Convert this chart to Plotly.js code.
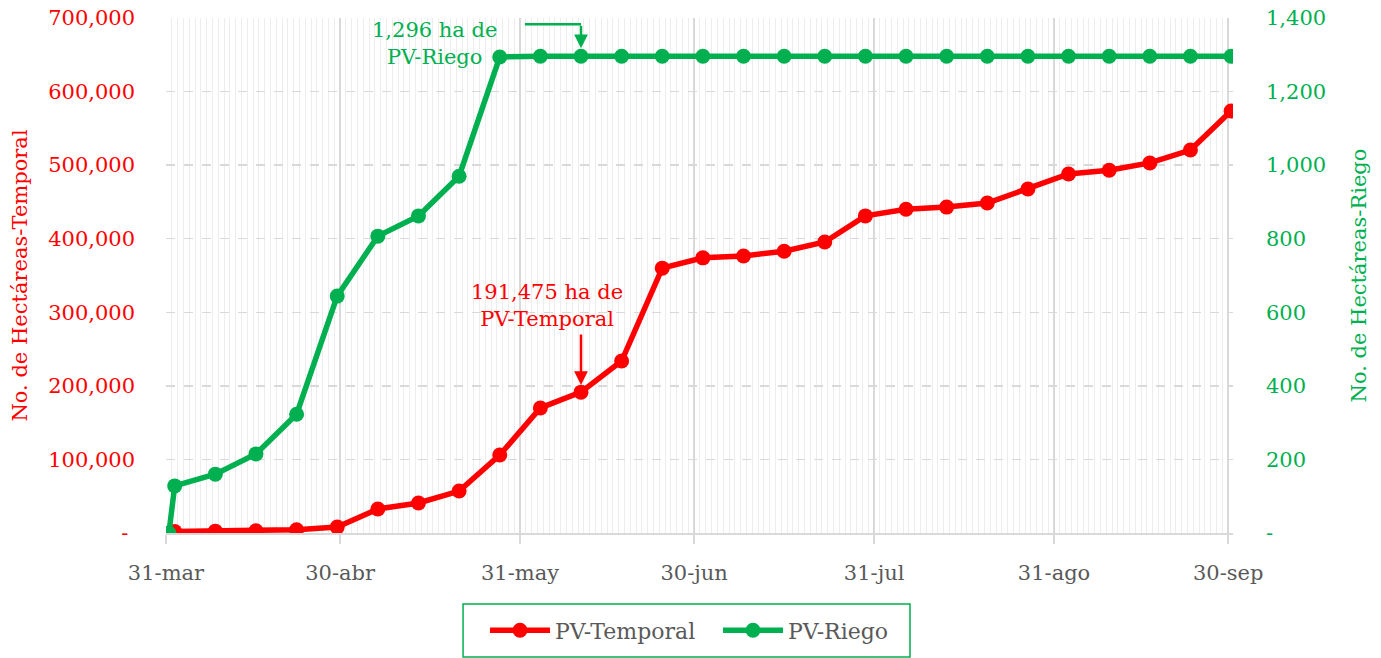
<!DOCTYPE html>
<html><head><meta charset="utf-8">
<script src="https://cdn.plot.ly/plotly-3.0.1.min.js"></script>
<style>html,body{margin:0;padding:0;background:#fff}#chart{width:1381px;height:658px}</style>
</head><body><div id="chart"></div>
<script>
const fechasTemporal = ['2024-04-01','2024-04-08','2024-04-15','2024-04-22','2024-04-29','2024-05-06','2024-05-13','2024-05-20','2024-05-27','2024-06-03','2024-06-10','2024-06-17','2024-06-24','2024-07-01','2024-07-08','2024-07-15','2024-07-22','2024-07-29','2024-08-05','2024-08-12','2024-08-19','2024-08-26','2024-09-02','2024-09-09','2024-09-16','2024-09-23','2024-09-30'];
const temporal = [2000,2500,3000,4500,8000,32600,40800,57000,106000,170000,191475,233800,360000,374000,376500,383000,395500,431000,440000,443000,448500,467500,488000,493000,503000,520500,573600];
const fechasRiego = ['2024-03-31','2024-04-01','2024-04-08','2024-04-15','2024-04-22','2024-04-29','2024-05-06','2024-05-13','2024-05-20','2024-05-27','2024-06-03','2024-06-10','2024-06-17','2024-06-24','2024-07-01','2024-07-08','2024-07-15','2024-07-22','2024-07-29','2024-08-05','2024-08-12','2024-08-19','2024-08-26','2024-09-02','2024-09-09','2024-09-16','2024-09-23','2024-09-30'];
const riego = [0,128,160,215,323,644,807,862,970,1294,1296,1296,1296,1296,1296,1296,1296,1296,1296,1296,1296,1296,1296,1296,1296,1296,1296,1296];
const tickFechas = ['2024-03-31','2024-04-30','2024-05-31','2024-06-30','2024-07-31','2024-08-31','2024-09-30'];
const tickEtiquetas = ['31-mar','30-abr','31-may','30-jun','31-jul','31-ago','30-sep'];
const yIzqValores = [0,100000,200000,300000,400000,500000,600000,700000];
const yIzqEtiquetas = ['-\u00a0','100,000','200,000','300,000','400,000','500,000','600,000','700,000'];
const yDerValores = [0,200,400,600,800,1000,1200,1400];
const yDerEtiquetas = ['-','200','400','600','800','1,000','1,200','1,400'];
const notaRiego = '1,296 ha de<br>PV-Riego';
const notaTemporal = '191,475 ha de<br>PV-Temporal';

const FONT = 'DejaVu Serif';
const ROJO = '#ff0000', VERDE = '#00b050', GRIS = '#595959', GRID = '#d9d9d9';
const DIA = 86400000;
const FS = 21;

const traces = [
  {x: fechasTemporal, y: temporal, name: 'PV-Temporal', type: 'scatter', mode: 'lines+markers',
   line: {color: ROJO, width: 5.5}, marker: {color: ROJO, size: 15},
   xperiod: DIA, xperiodalignment: 'middle', yaxis: 'y'},
  {x: fechasRiego, y: riego, name: 'PV-Riego', type: 'scatter', mode: 'lines+markers',
   line: {color: VERDE, width: 5.5}, marker: {color: VERDE, size: 15},
   xperiod: DIA, xperiodalignment: 'middle', yaxis: 'y2'}
];

const layout = {
  width: 1381, height: 658, autosize: false,
  margin: {l: 166, r: 148, t: 18, b: 125},
  paper_bgcolor: '#fff', plot_bgcolor: '#fff',
  font: {family: FONT, size: FS, color: GRIS},
  showlegend: true,
  xaxis: {
    type: 'date', range: ['2024-03-31', '2024-09-30 20:00'],
    tickmode: 'array', tickvals: tickFechas, ticktext: tickEtiquetas,
    showgrid: true, gridcolor: GRID, gridwidth: 1.5,
    ticks: 'outside', ticklen: 9, tickcolor: GRID, tickwidth: 1.5,
    showline: true, linecolor: GRID, linewidth: 1.5,
    tickfont: {family: FONT, size: FS, color: GRIS}, ticklabelstandoff: 11,
    zeroline: false, automargin: false,
    minor: {tickmode: 'linear', tick0: '2024-03-31', dtick: DIA, showgrid: true, gridcolor: '#ededed', gridwidth: 1, ticks: ''}
  },
  yaxis: {
    range: [0, 700000], tickmode: 'array', tickvals: yIzqValores, ticktext: yIzqEtiquetas,
    tickfont: {family: FONT, size: FS, color: ROJO},
    showgrid: true, gridcolor: GRID, gridwidth: 1.5, griddash: 'dash',
    zeroline: false, showline: false, ticks: '', ticklabelstandoff: 30, automargin: false,
    title: {text: 'No. de Hectáreas-Temporal', font: {family: FONT, size: FS, color: ROJO}, standoff: 14}
  },
  yaxis2: {
    overlaying: 'y', side: 'right',
    range: [0, 1400], tickmode: 'array', tickvals: yDerValores, ticktext: yDerEtiquetas,
    tickfont: {family: FONT, size: FS, color: VERDE},
    showgrid: false, zeroline: false, showline: false, ticks: '', ticklabelstandoff: 32, automargin: false,
    title: {text: 'No. de Hectáreas-Riego', font: {family: FONT, size: FS, color: VERDE}, standoff: 26}
  },
  legend: {
    orientation: 'h', xref: 'container', yref: 'container',
    x: 0.3512, xanchor: 'left', y: 0.0418, yanchor: 'middle',
    font: {family: FONT, size: 22, color: GRIS}, bgcolor: 'rgba(0,0,0,0)', borderwidth: 0,
    itemwidth: 60, entrywidth: 158
  },
  shapes: [
    {type: 'rect', xref: 'paper', yref: 'paper', x0: 0.2784, x1: 0.6973, y0: -0.1379, y1: -0.2408,
     line: {color: VERDE, width: 1.5}, fillcolor: 'rgba(0,0,0,0)'},
    {type: 'line', xref: 'x', yref: 'y2', x0: '2024-05-31 20:00', x1: '2024-06-10 12:00', y0: 1383, y1: 1383,
     line: {color: VERDE, width: 2.5}}
  ],
  annotations: [
    {xref: 'paper', yref: 'paper', x: 0.2512, y: 0.951, xanchor: 'center', yanchor: 'middle', align: 'center',
     text: notaRiego, showarrow: false, font: {family: FONT, size: FS, color: VERDE}},
    {xref: 'paper', yref: 'paper', x: 0.3571, y: 0.4427, xanchor: 'center', yanchor: 'middle', align: 'center',
     text: notaTemporal, showarrow: false, font: {family: FONT, size: FS, color: ROJO}},
    {xref: 'x', yref: 'y', x: '2024-06-10 12:00', y: 201000, axref: 'x', ayref: 'y', ax: '2024-06-10 12:00', ay: 272000,
     text: '', showarrow: true, arrowhead: 2, arrowsize: 1.1, arrowwidth: 2.5, arrowcolor: ROJO, standoff: 0},
    {xref: 'x', yref: 'y2', x: '2024-06-10 12:00', y: 1318, axref: 'x', ayref: 'y2', ax: '2024-06-10 12:00', ay: 1383,
     text: '', showarrow: true, arrowhead: 2, arrowsize: 1.1, arrowwidth: 2.5, arrowcolor: VERDE, standoff: 0}
  ]
};

Plotly.newPlot('chart', traces, layout, {displayModeBar: false, staticPlot: true});
</script></body></html>
